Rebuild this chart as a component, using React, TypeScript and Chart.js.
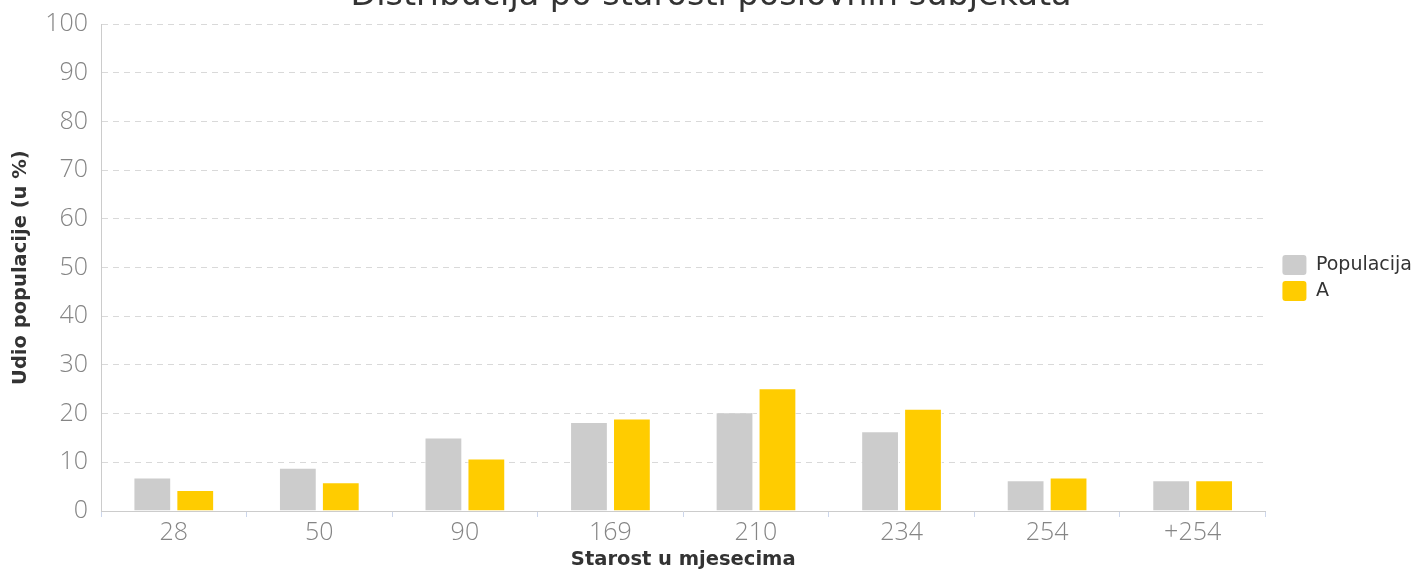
import React, { useEffect, useRef } from 'react';
import { Chart, registerables, layouts } from 'chart.js';

Chart.register(...registerables);

const categories = ['28', '50', '90', '169', '210', '234', '254', '+254'];
const populacijaValues = [6.9, 8.9, 15.1, 18.3, 20.3, 16.4, 6.3, 6.3];
const aValues = [4.3, 5.9, 10.8, 19.0, 25.2, 21.0, 6.9, 6.3];
const seriesNames = ['Populacija', 'A'];
const chartTitle = 'Distribucija po starosti poslovnih subjekata';
const yAxisTitle = 'Udio populacije (u %)';
const xAxisTitle = 'Starost u mjesecima';

const FONT = '"DejaVu Sans", Verdana, sans-serif';
const TICK_FONT = '"Open Sans", "DejaVu Sans", sans-serif';
const CANVAS_W = 1415;
const TOP_SHIFT = 30;
const CANVAS_H = 574 + TOP_SHIFT;

const legendGapPlugin = {
  id: 'legendGap',
  beforeInit(chart: any) {
    const spacer: any = {
      position: 'right',
      weight: 10,
      fullSize: false,
      options: {},
      top: 0, left: 0, right: 0, bottom: 0, width: 0, height: 0,
      isHorizontal() { return false; },
      update(_maxW: number, maxH: number) { this.width = 11; this.height = maxH; },
      draw() {},
      _layers() { return []; },
    };
    layouts.addBox(chart, spacer);
  },
};

export default function App() {
  const ref = useRef<HTMLCanvasElement | null>(null);

  useEffect(() => {
    if (!ref.current) return;
    const chart = new Chart(ref.current, {
      type: 'bar',
      data: {
        labels: categories,
        datasets: [
          {
            label: seriesNames[0],
            data: populacijaValues,
            backgroundColor: '#cccccc',
            borderColor: '#ffffff',
            borderWidth: 1,
            categoryPercentage: 0.59,
            barPercentage: 0.88,
          },
          {
            label: seriesNames[1],
            data: aValues,
            backgroundColor: '#ffcc00',
            borderColor: '#ffffff',
            borderWidth: 1,
            categoryPercentage: 0.59,
            barPercentage: 0.88,
          },
        ],
      },
      plugins: [legendGapPlugin],
      options: {
        responsive: false,
        animation: false,
        layout: { padding: { left: 0, right: -7, top: 0, bottom: 0 } },
        plugins: {
          title: {
            display: true,
            text: chartTitle,
            color: '#333333',
            font: { family: FONT, size: 33.5, weight: 'normal', lineHeight: 1.2 },
            padding: { top: 6, bottom: 8 },
          },
          legend: {
            position: 'right',
            title: { display: true, text: '', font: { size: 10, lineHeight: 1 }, padding: { top: 2, bottom: 0 } },
            labels: {
              boxWidth: 24,
              boxHeight: 20,
              padding: 6,
              color: '#333333',
              useBorderRadius: true,
              borderRadius: 3,
              font: { family: FONT, size: 19, weight: 'normal' },
              generateLabels(chart: any) {
                return chart.data.datasets.map((ds: any, i: number) => ({
                  text: ds.label,
                  fillStyle: ds.backgroundColor,
                  strokeStyle: ds.backgroundColor,
                  lineWidth: 0,
                  borderRadius: 3,
                  hidden: false,
                  datasetIndex: i,
                  fontColor: '#333333',
                }));
              },
            },
          },
          tooltip: { enabled: false },
        },
        scales: {
          x: {
            afterFit(scale: any) { scale.height = 63; },
            grid: {
              display: true,
              drawOnChartArea: false,
              drawTicks: true,
              tickLength: 6,
              tickColor: '#ccd6eb',
              offset: true,
            },
            border: { display: true, color: '#cccccc', width: 1 },
            ticks: {
              color: '#858585',
              padding: 1,
              font: { family: TICK_FONT, size: 25, weight: 300 },
            },
            title: {
              display: true,
              text: xAxisTitle,
              color: '#333333',
              font: { family: FONT, size: 19.5, weight: 'bold', lineHeight: 1.2 },
              padding: { top: 0, bottom: 2 },
            },
          },
          y: {
            min: 0,
            max: 100,
            afterFit(scale: any) { scale.width = 101; },
            ticks: {
              stepSize: 10,
              color: '#858585',
              padding: 13,
              font: { family: TICK_FONT, size: 25, weight: 300 },
            },
            grid: {
              color: '#d9d9d9',
              lineWidth: 1,
              drawTicks: false,
            },
            border: { display: true, color: '#cccccc', width: 1, dash: [6, 5] },
            title: {
              display: true,
              text: yAxisTitle,
              color: '#333333',
              font: { family: FONT, size: 19.5, weight: 'bold', lineHeight: 1.2 },
              padding: { top: 9, bottom: 0 },
            },
          },
        },
      },
    } as any);
    return () => chart.destroy();
  }, []);

  return (
    <div style={{ position: 'fixed', left: 0, top: 0, width: '100vw', height: '100vh', overflow: 'hidden', background: '#fff' }}>
      <div style={{ position: 'absolute', left: 0, top: -TOP_SHIFT, width: CANVAS_W, height: CANVAS_H }}>
        <canvas ref={ref} width={CANVAS_W} height={CANVAS_H} style={{ width: CANVAS_W, height: CANVAS_H, display: 'block' }} />
      </div>
    </div>
  );
}
